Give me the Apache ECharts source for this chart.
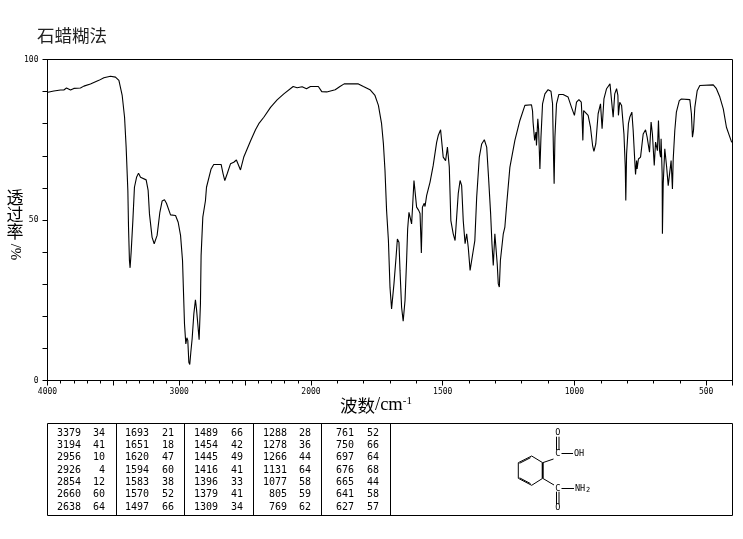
<!DOCTYPE html>
<html><head><meta charset="utf-8">
<style>html,body{margin:0;padding:0;background:#fff}#c{width:743px;height:539px}</style>
<script src="https://cdn.jsdelivr.net/npm/echarts@6/dist/echarts.min.js"></script>
</head><body><div id="c"></div>
<script>
const wavenumbers = [3997,3952,3901,3876,3856,3825,3800,3750,3724,3674,3610,3572,3522,3484,3458,3433,3415,3403,3390,3385,3378,3373,3365,3352,3340,3324,3309,3294,3281,3251,3236,3226,3206,3190,3180,3168,3147,3130,3112,3097,3066,3028,3008,2990,2975,2968,2960,2950,2942,2935,2927,2920,2912,2902,2889,2877,2869,2859,2849,2839,2834,2821,2801,2793,2758,2738,2682,2667,2654,2636,2611,2586,2566,2535,2510,2459,2421,2396,2358,2307,2257,2206,2135,2105,2067,2034,2004,1972,1959,1940,1908,1890,1874,1820,1801,1776,1757,1744,1732,1725,1719,1713,1706,1700,1694,1690,1685,1677,1672,1666,1662,1656,1650,1643,1637,1633,1628,1622,1618,1614,1609,1604,1599,1591,1586,1582,1581,1577,1570,1567,1561,1548,1536,1523,1517,1508,1503,1498,1489,1482,1479,1475,1469,1460,1453,1447,1441,1434,1428,1422,1415,1409,1403,1396,1391,1384,1378,1371,1361,1352,1342,1333,1326,1318,1313,1308,1302,1298,1293,1289,1285,1281,1275,1270,1264,1257,1245,1226,1207,1188,1163,1159,1157,1151,1146,1144,1139,1136,1131,1127,1121,1112,1100,1089,1083,1079,1077,1074,1068,1059,1043,1024,1011,1000,992,983,974,971,968,965,948,939,931,926,919,910,901,895,888,878,865,858,853,847,840,835,833,828,821,812,807,805,802,795,790,782,777,771,768,764,762,757,749,739,730,724,715,709,704,697,692,685,681,677,673,671,667,666,663,657,650,644,638,633,628,625,619,613,602,594,562,556,552,548,543,534,524,473,461,448,435,423,410,403];
const transmittance = [89.8,90.2,90.5,90.5,91.1,90.5,91,91.1,91.7,92.4,93.5,94.3,94.8,94.5,93.5,88.8,82,72.7,59.2,47.8,37.4,35.1,40,49.8,60.2,63.3,64.6,63.3,63.1,62.5,59.2,51.9,44.6,42.6,42.8,45.2,52.4,55.9,56.3,55.2,51.6,51.4,49.3,45.2,37.4,28,17.6,11.4,13.3,12.5,5.7,5,8.8,13,20.8,25.1,22.3,17.6,12.7,23.9,38.9,50.9,56,60.2,65.9,67.3,67.3,64.4,62.3,64.4,67.5,68,68.7,65.6,69.6,74.6,78.1,80,82,85.1,87.4,89.3,91.6,91.2,91.5,90.9,91.6,91.6,90,89.9,90.6,91.6,92.4,92.4,91.6,90.6,88.8,85.7,80,73.7,65.4,53,43.6,29,22.3,21.8,30.1,38.4,44.1,43.1,34.3,22.8,18.5,24.9,37.4,47.2,52.4,51.9,48.8,54.5,62.3,62.8,54,53,52,42.6,39.7,54,55.2,54.2,57.6,61.8,67,74.2,76.3,78.1,77.9,69.6,68.5,72.7,73.2,66.5,49.8,45.7,43.6,50.9,58.2,62.3,60.7,49.8,42.6,45.7,41.5,34.3,34.5,40.5,43.6,57.1,69.6,73.7,75,72.7,63.3,51.9,42.6,35.8,45.7,46.2,36.3,30.1,29.1,37.4,37.9,45.7,47.8,55,66.4,74.8,81,85.7,85.9,84,80.5,74.8,77.4,73.2,81.5,78.4,65.9,75.8,86.2,89.3,90.6,90.1,86.2,68.5,61.3,75.8,86.2,89.1,89.1,88.3,85.1,82.6,86.7,87.5,86.7,82,74.8,84.1,82.6,78.9,73.2,71.4,73.7,83.1,86.2,78.4,87.7,90.9,92.4,92.2,82,89.3,90.9,88.8,82.6,86.7,85.7,76.8,66.5,56.1,70.6,80,82,83.6,77.9,68.5,64.2,68.5,65.9,69,69.6,76.8,78.1,75.8,71.1,80.5,76.8,67,74.3,71.6,81,71.6,69.6,75.3,64.4,45.7,61.3,72.2,66.5,60.7,60.2,68.5,59.7,69,77.9,83.6,87.2,87.7,87.5,83.1,75.8,77.9,85.1,90.3,91.9,92.1,90.9,88.3,84.6,78.9,75.8,74.2];

const peakWavenumbers = [
  [3379,3194,2956,2926,2854,2660,2638],
  [1693,1651,1620,1594,1583,1570,1497],
  [1489,1454,1445,1416,1396,1379,1309],
  [1288,1278,1266,1131,1077,805,769],
  [761,750,697,676,665,641,627]
];
const peakTransmittance = [
  [34,41,10,4,12,60,64],
  [21,18,47,60,38,52,66],
  [66,42,49,41,33,41,34],
  [28,36,44,64,58,59,62],
  [52,66,64,68,44,58,57]
];
const xTickLabels = [4000,3000,2000,1500,1000,500];
const xMajorTicks = [4000,3500,3000,2500,2000,1500,1000,500,400];
const xMinorTicks = [4000,3900,3800,3700,3600,3500,3400,3300,3200,3100,3000,2900,2800,2700,2600,2500,2400,2300,2200,2100,2000,1900,1800,1700,1600,1500,1400,1300,1200,1100,1000,900,800,700,600,500,400];
const yTickLabels = [0,50,100];

// The instrument chart halves its scale above 2000 cm-1
const toAxis = w => w >= 2000 ? (4000 - w) / 2 : 1000 + (2000 - w);
const fromAxis = v => v <= 1000 ? 4000 - 2 * v : 2000 - (v - 1000);

const mono = '"DejaVu Sans Mono", monospace';
const cjk = '"Noto Sans CJK SC", serif';
const graphic = [];
const line = (x1,y1,x2,y2,w) => graphic.push({type:'line',silent:true,shape:{x1,y1,x2,y2},style:{stroke:'#000',lineWidth:w||1}});
const text = (x,y,t,o) => graphic.push(Object.assign({type:'text',silent:true,x,y,style:Object.assign({text:t,fill:'#000',font:'10px '+mono,align:'left',verticalAlign:'middle'},o||{})}));

// peak table
const tableTop=423.5, tableBottom=515.5, tableLeft=47.5, tableRight=732.5;
[tableTop,tableBottom].forEach(y=>line(tableLeft,y,tableRight,y));
[tableLeft,116.5,184.5,253.5,321.5,390.5,tableRight].forEach(x=>line(x,tableTop,x,tableBottom));
const wnRight=[81,149,218,287,354], tRight=[105,174,243,311,379];
peakWavenumbers.forEach((col,c)=>col.forEach((w,r)=>{
  const y=433+r*12.33;
  text(wnRight[c],y,String(w),{align:'right'});
  text(tRight[c],y,String(peakTransmittance[c][r]),{align:'right'});
}));

// structure drawing
[[542.7,462.7,542.7,478.3,2],[542.7,478.3,531.7,485.3],[531.7,485.3,518.3,478.3],[530.5,483.6,519.5,477.8],[518.3,478.3,518.3,462.7],[518.3,462.7,531.7,456],[519.5,463.3,530.5,457.7],[531.7,456,542.7,462.7],
 [542.7,462.7,553.5,459],[542.7,478.3,554,485],[561.5,453.5,573,453.5],[561.5,488.5,574,488.5]].forEach(s=>line(s[0],s[1],s[2],s[3],s[4]));
[[556.5,436.7,556.5,450],[559,436.7,559,450],[556.5,491.7,556.5,504.3],[559,491.7,559,504.3]].forEach(s=>line(s[0],s[1],s[2],s[3]));
const sf={font:'8.5px '+mono,align:'center'};
text(557.7,432.5,'O',sf); text(557.7,453.5,'C',sf); text(574,453.5,'OH',Object.assign({},sf,{align:'left'}));
text(557.7,488.5,'C',sf); text(575,488.5,'NH',Object.assign({},sf,{align:'left'})); text(586,490,'2',{font:'7px '+mono}); text(557.7,508,'O',sf);

// axis titles
graphic.push({type:'text',silent:true,x:340,y:405,style:{
  text:'{a|波数}{b|/cm}{c|-1}',verticalAlign:'middle',
  rich:{a:{font:'17.5px '+cjk,fill:'#000'},b:{font:'18.5px "Liberation Serif", serif',fill:'#000'},c:{font:'11px "Liberation Serif", serif',fill:'#000',verticalAlign:'top',padding:[0,0,8,0]}}
}});
text(15,215,'透\n过\n率',{font:'17px '+cjk,align:'center',lineHeight:17});
graphic.push({type:'text',silent:true,x:15,y:252,rotation:-Math.PI/2,style:{text:'/%',font:'15px "Liberation Serif", serif',fill:'#000',align:'center',verticalAlign:'middle'}});

const chart = echarts.init(document.getElementById('c'),null,{renderer:'canvas'});
chart.setOption({
  animation:false,
  backgroundColor:'#fff',
  title:{text:'石蜡糊法',left:37,top:27,padding:0,textStyle:{fontFamily:cjk,fontSize:17.5,fontWeight:'normal',color:'#222'}},
  grid:{left:47.5,top:59.5,right:10.5,bottom:158.5,show:true,borderColor:'#000',borderWidth:1,backgroundColor:'transparent'},
  xAxis:[{
    type:'value',min:0,max:2600,
    axisLine:{lineStyle:{color:'#000',width:1}},
    axisTick:{customValues:xMinorTicks.map(toAxis),length:3,lineStyle:{color:'#000'}},
    axisLabel:{customValues:xTickLabels.map(toAxis),formatter:v=>String(fromAxis(v)),margin:7,fontFamily:mono,fontSize:8,color:'#000'},
    splitLine:{show:false}
  },{
    type:'value',min:0,max:2600,position:'bottom',
    axisLine:{show:false},
    axisTick:{customValues:xMajorTicks.map(toAxis),length:5,lineStyle:{color:'#000'}},
    axisLabel:{show:false},splitLine:{show:false}
  }],
  yAxis:{
    type:'value',min:0,max:100,interval:10,
    axisLine:{lineStyle:{color:'#000',width:1}},
    axisTick:{length:5,lineStyle:{color:'#000'}},
    axisLabel:{customValues:yTickLabels,margin:9,fontFamily:mono,fontSize:8,color:'#000'},
    splitLine:{show:false}
  },
  series:[{
    type:'line',showSymbol:false,symbol:'none',smooth:false,silent:true,
    data:wavenumbers.map((w,i)=>[toAxis(w),transmittance[i]]),
    lineStyle:{color:'#000',width:1.1}
  }],
  graphic:{elements:graphic}
});
</script></body></html>
